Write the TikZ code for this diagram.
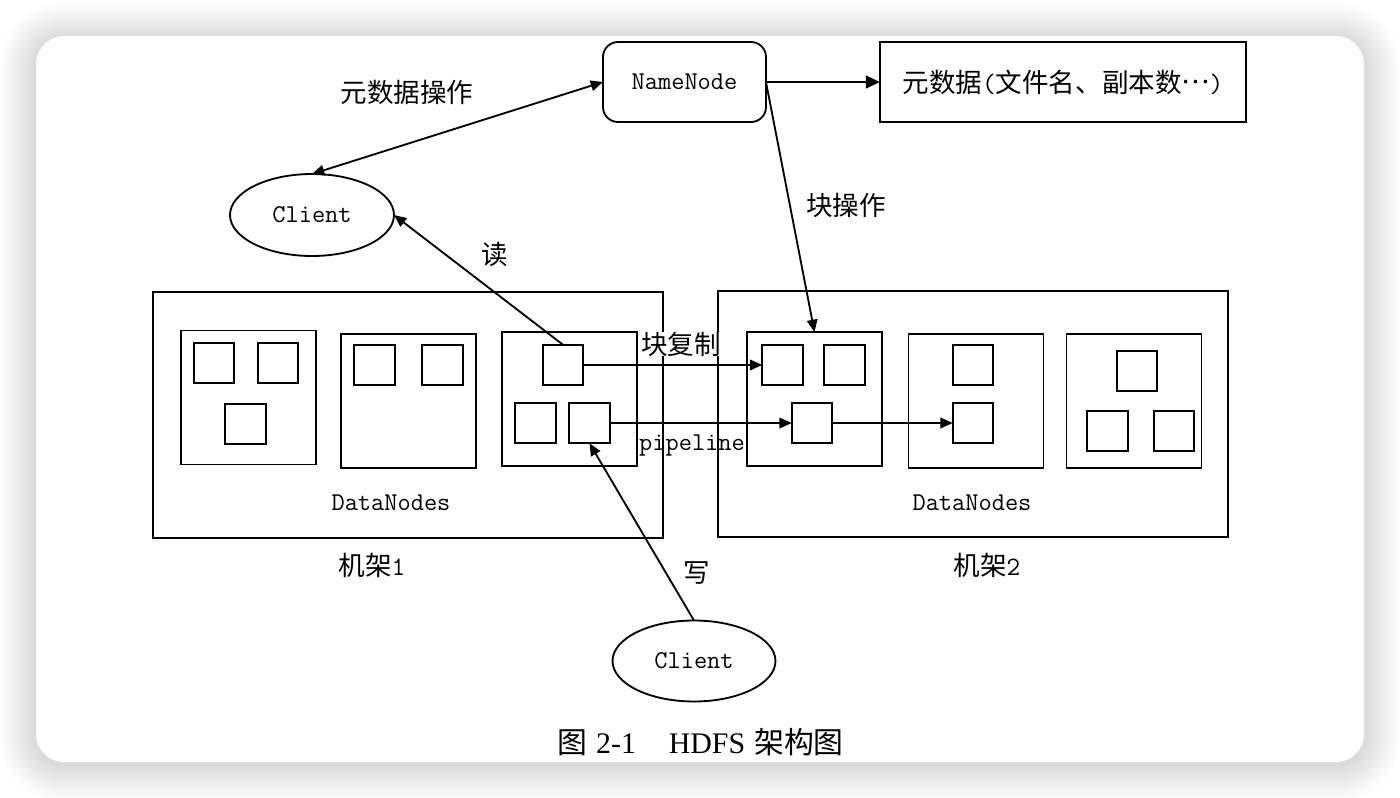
\documentclass[tikz,border=0pt]{standalone}
\usepackage{fontspec}
\newfontfamily\cjk{Noto Sans CJK SC}
\newfontfamily\capserif{Liberation Serif}
\usetikzlibrary{arrows.meta,shapes.geometric}
\begin{document}
\begin{tikzpicture}[x=0.02cm,y=-0.02cm,
  box/.style={draw, line width=1.05pt, inner sep=0pt, outer sep=0pt},
  rack/.style={box, minimum width=10.2cm, minimum height=4.92cm},
  dn/.style={box, minimum width=2.7cm, minimum height=2.68cm},
  blk/.style={box, minimum width=0.81cm, minimum height=0.81cm},
  mono/.style={font=\fontsize{14.6pt}{16pt}\selectfont\ttfamily},
  zh/.style={font=\fontsize{15.1pt}{17pt}\selectfont\cjk},
  lbl/.style={inner sep=0pt},
  conn/.style={line width=1.05pt, -{Triangle[length=7pt,width=6pt]}},
]
% page and card
\useasboundingbox (0,0) rectangle (1400,798);
\fill[white] (0,0) rectangle (1400,798);
\foreach \i in {1,...,18}{
  \pgfmathsetmacro\rr{(28+2*\i)*0.567}
  \fill[black, opacity=0.009, rounded corners=\rr pt] (36-2*\i,36-2*\i+3) rectangle (1364+2*\i,762+2*\i+3);
}
\fill[white, rounded corners=15.9pt] (36,36) rectangle (1364,762);

% racks
\node[rack] (r1) at (408,415) {};
\node[rack] (r2) at (973,414) {};

% datanodes rack 1
\node[dn] (d11) at (248.5,397.5) {};
\node[dn] (d12) at (408.5,401) {};
\node[dn] (d13) at (569.5,399) {};
% datanodes rack 2
\node[dn] (d21) at (814.5,399) {};
\node[dn] (d22) at (976,401) {};
\node[dn] (d23) at (1134,401) {};

% blocks
\node[blk] (b11a) at (214,363) {};
\node[blk] (b11b) at (278,363) {};
\node[blk] (b11c) at (245.5,424) {};
\node[blk] (b12a) at (374.5,365) {};
\node[blk] (b12b) at (442.5,365) {};
\node[blk] (b13a) at (563,365) {};
\node[blk] (b13b) at (535.5,423) {};
\node[blk] (b13c) at (589.5,423) {};
\node[blk] (b21a) at (782.5,365) {};
\node[blk] (b21b) at (844.5,365) {};
\node[blk] (b21c) at (812,423) {};
\node[blk] (b22a) at (973,365) {};
\node[blk] (b22b) at (973,423) {};
\node[blk] (b23a) at (1137,371) {};
\node[blk] (b23b) at (1107.5,431) {};
\node[blk] (b23c) at (1174,431) {};

\node[lbl, mono] (dnl1) at (391,503) {DataNodes};
\node[lbl, mono] (dnl2) at (972,503) {DataNodes};
\node[lbl, zh] (rk1) at (372,565) {机架\texttt{1}};
\node[lbl, zh] (rk2) at (987,565) {机架\texttt{2}};

% top nodes
\node[box, rounded corners=8.5pt, minimum width=3.26cm, minimum height=1.6cm, mono] (nn) at (684.5,82) {NameNode};
\node[box, minimum width=7.32cm, minimum height=1.6cm, zh] (meta) at (1063,82) {元数据\texttt{(}文件名、副本数\raisebox{0.33em}{…}\texttt{)}};
\node[ellipse, box, minimum width=3.28cm, minimum height=1.64cm, mono] (c1) at (312,215) {Client};
\node[ellipse, box, minimum width=3.26cm, minimum height=1.62cm, mono] (c2) at (694,661) {Client};

% connectors
\draw[line width=1.7pt, -{Triangle[length=8pt,width=7pt]}] (nn.east) -- (meta.west);
\draw[conn, {Triangle[length=7pt,width=6pt]}-{Triangle[length=7pt,width=6pt]}] (c1.north) -- (nn.west);
\draw[conn] (b13a.north) -- (c1.east);
\draw[conn] (c2.north) -- (b13c.south);
\draw[conn] (nn.east) -- (d21.north);
\draw[conn] (b13a.east) -- (b21a.west);
\draw[conn] (b13c.east) -- (b21c.west);
\draw[conn] (b21c.east) -- (b22b.west);

% labels
\node[lbl, zh] (l1) at (407,92) {元数据操作};
\node[lbl, zh] (l2) at (495,254) {读};
\node[lbl, zh] (l3) at (846,205) {块操作};
\node[lbl, zh, fill=white] (l4) at (681,344) {块复制};
\node[lbl, mono] (l5) at (692,446) {pipeline};
\node[lbl, zh] (l6) at (697,573) {写};

% caption
\node[lbl, font=\fontsize{17pt}{19pt}\selectfont] (cap) at (700.5,742) {{\cjk 图}\ {\capserif 2-1}\hspace{1.1em}{\capserif HDFS} {\cjk 架构图}};
\end{tikzpicture}
\end{document}
